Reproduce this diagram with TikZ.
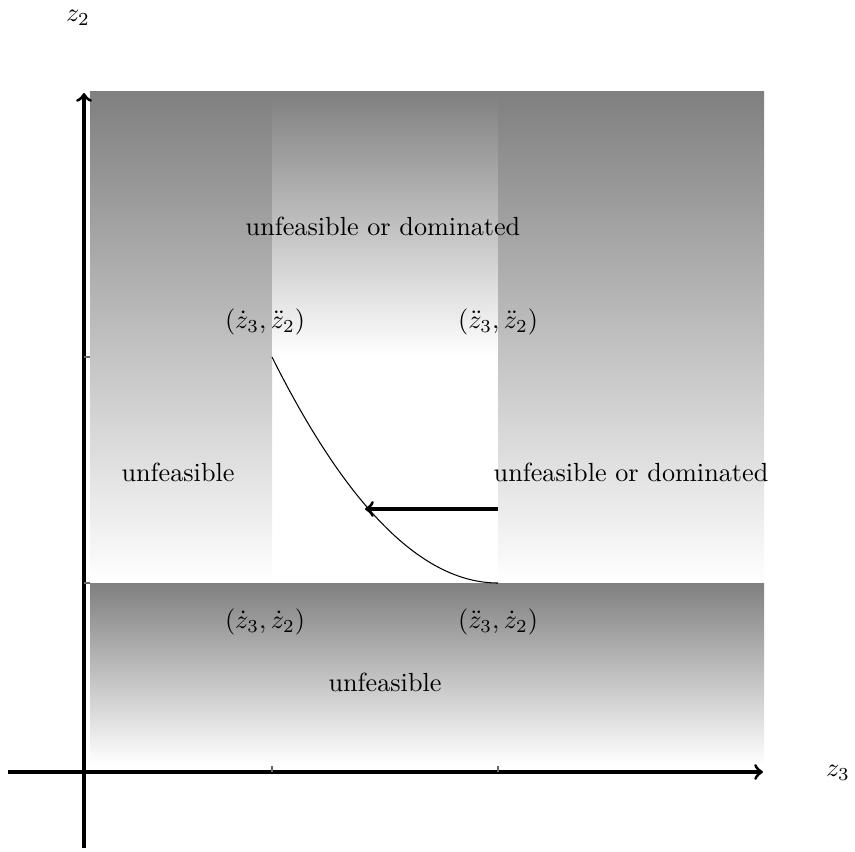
\documentclass[tikz,border=0pt]{standalone}
\begin{document}
\begin{tikzpicture}[x=0.3817pt,y=-0.3817pt,
  region/.style={top color=gray,bottom color=white,draw=none},
  axis/.style={very thick,->},
  tickmark/.style={thin,gray!80!black},
  lbl/.style={inner sep=1pt}]
\useasboundingbox (0,0) rectangle (855,851);
% shaded regions
\shade[region] (90,92) rectangle (272,584);
\shade[region] (272,92) rectangle (498,356);
\shade[region] (498,92) rectangle (764,584);
\shade[region] (90,583) rectangle (764,764);
% coordinates
\coordinate (yb) at (84,848);
\coordinate (yt) at (84,93);
\coordinate (xl) at (8,772);
\coordinate (xr) at (763,772);
\coordinate (p1) at (272,357);
\coordinate (p2) at (498,583);
\coordinate (as) at (498,509);
\coordinate (ae) at (365,509);
% axes
\draw[axis] (yb) -- (yt);
\draw[axis] (xl) -- (xr);
% ticks
\draw[tickmark] (272,766) -- (272,772);
\draw[tickmark] (498,766) -- (498,772);
\draw[tickmark] (84,357) -- (90,357);
\draw[tickmark] (84,583) -- (90,583);
% curve and arrow
\draw (p1) .. controls (347.3,507.7) and (422.7,583) .. (p2);
\draw[axis] (as) -- (ae);
% labels
\node[lbl] (z2) at (78,18) {$z_2$};
\node[lbl] (z3) at (838,773) {$z_3$};
\node[lbl] (t1) at (383,226) {unfeasible or dominated};
\node[lbl] (t2) at (178,472) {unfeasible};
\node[lbl] (t3) at (631,472) {unfeasible or dominated};
\node[lbl] (t4) at (385,682) {unfeasible};
\node[lbl] (c1) at (265,322) {$(\dot z_3,\ddot z_2)$};
\node[lbl] (c2) at (498,322) {$(\ddot z_3,\ddot z_2)$};
\node[lbl] (c3) at (265,622) {$(\dot z_3,\dot z_2)$};
\node[lbl] (c4) at (498,622) {$(\ddot z_3,\dot z_2)$};
\end{tikzpicture}
\end{document}
